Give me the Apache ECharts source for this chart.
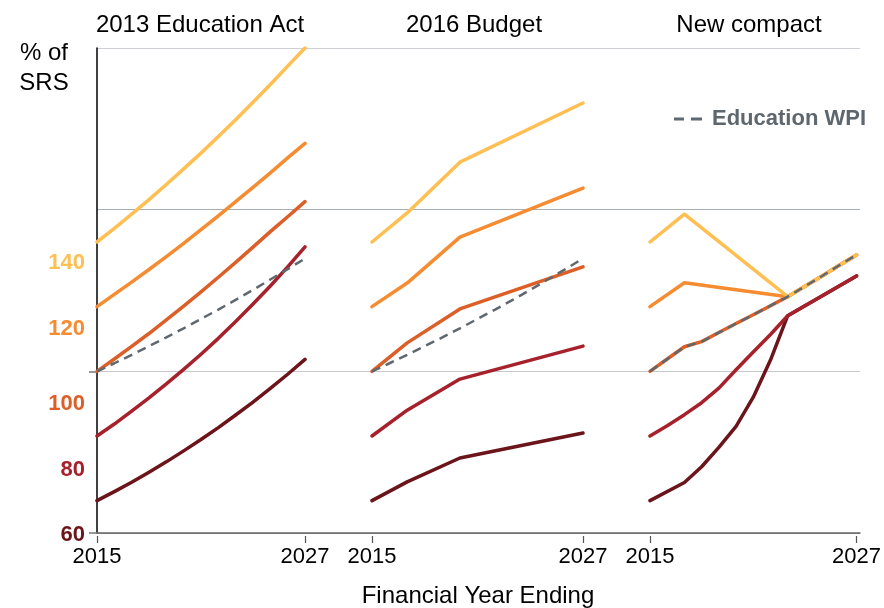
<!DOCTYPE html>
<html>
<head>
<meta charset="utf-8">
<script src="https://cdn.jsdelivr.net/npm/echarts@6/dist/echarts.min.js"></script>
<style>
html,body{margin:0;padding:0;background:#fff;}
#chart{width:884px;height:608px;}
</style>
</head>
<body>
<div id="chart"></div>
<script>
// ---------- DATA ----------
const panelTitles = ['2013 Education Act', '2016 Budget', 'New compact'];
const tickYears = [2015, 2027];
const startLabels = ['60', '80', '100', '120', '140'];
const startValues = [60, 80, 100, 120, 140];

// 2013 Education Act (yearly 2015..2027)
const actYears = [2015, 2016, 2017, 2018, 2019, 2020, 2021, 2022, 2023, 2024, 2025, 2026, 2027];
const actDark      = [60, 62.8, 65.7, 68.8, 72.0, 75.4, 78.9, 82.6, 86.5, 90.5, 94.7, 99.1, 103.7];
const actRed       = [80, 83.7, 87.7, 91.8, 96.1, 100.6, 105.3, 110.2, 115.4, 120.8, 126.4, 132.3, 138.5];
const actOrangeRed = [100, 103.8, 107.7, 111.7, 115.9, 120.2, 124.6, 129.1, 133.7, 138.4, 143.2, 147.8, 152.5];
const actOrange    = [120, 123.8, 127.6, 131.5, 135.5, 139.6, 143.8, 148.1, 152.5, 156.9, 161.4, 166.0, 170.5];
const actLight     = [140, 144.2, 148.6, 153.1, 157.8, 162.6, 167.5, 172.6, 177.8, 183.2, 188.7, 194.4, 200];
const wpi          = [100, 102.5, 105.1, 107.8, 110.5, 113.3, 116.2, 119.1, 122.1, 125.2, 128.4, 131.6, 134.9];

// 2016 Budget
const budYears = [2015, 2017, 2020, 2027];
const budDark      = [60, 65.8, 73.2, 80.9];
const budRed       = [80, 88, 97.6, 107.8];
const budOrangeRed = [100, 108.8, 119.3, 132.3];
const budOrange    = [120, 127.3, 141.5, 156.7];
const budLight     = [140, 149, 164.7, 183];

// New compact
const cmpDarkYears = [2015, 2017, 2018, 2019, 2020, 2021, 2022, 2023, 2027];
const cmpDark      = [60, 65.6, 70.5, 76.5, 83, 92, 103.5, 117.2, 129.5];
const cmpRedYears  = [2015, 2016, 2017, 2018, 2019, 2020, 2021, 2022, 2023, 2027];
const cmpRed       = [80, 83.2, 86.6, 90.3, 94.8, 100.5, 106, 111.4, 117.2, 129.5];
const cmpMidYears  = [2015, 2016, 2017, 2018, 2019, 2020, 2021, 2022, 2023, 2024, 2025, 2026, 2027];
const cmpOrangeRed = [100, 103.8, 107.6, 109.2, 112.0, 114.8, 117.5, 120.3, 123.1, 126.3, 129.5, 132.8, 136];
const cmpWpi       = [100, 103.8, 107.6, 109.2, 112.0, 114.8, 117.5, 120.3, 123.1, 126.3, 129.5, 132.8, 136];
const cmpTopYears  = [2015, 2017, 2023, 2024, 2025, 2026, 2027];
const cmpOrange    = [120, 127.4, 123.1, 126.3, 129.5, 132.8, 136];
const cmpLight     = [140, 148.6, 123.1, 126.3, 129.5, 132.8, 136];

// ---------- STYLE ----------
const FONT = '"Liberation Sans", Arial, Helvetica, sans-serif';
const C = {dark:'#6B141A', red:'#A6212B', orangeRed:'#DC5F27', orange:'#F58C32', light:'#FFBF52', wpi:'#5F676F'};
const bandColors = [C.dark, C.red, C.orangeRed, C.orange, C.light];
const labelShift = [34, 34, 33, 22, 21];

const pair = (xs, ys) => xs.map((x, i) => [x, ys[i]]);

function line(name, color, xs, ys, gi) {
  return {
    type: 'line', name: name, xAxisIndex: gi, yAxisIndex: gi,
    data: pair(xs, ys), symbol: 'none', showSymbol: false, clip: false,
    lineStyle: {color: color, width: 3.5, cap: 'round', join: 'round'},
    itemStyle: {color: color}, emphasis: {disabled: true}, silent: true
  };
}
function wpiLine(xs, ys, gi) {
  return {
    type: 'line', name: 'Education WPI', xAxisIndex: gi, yAxisIndex: gi,
    data: pair(xs, ys), symbol: 'none', showSymbol: false, clip: false,
    lineStyle: {color: C.wpi, width: 2.5, type: [9, 6]},
    itemStyle: {color: C.wpi}, emphasis: {disabled: true}, silent: true
  };
}

const gridsPx = [
  {left: 97, right: 24, top: 48, bottom: 75},   // background frame
  {left: 97, right: 579, top: 48, bottom: 75},
  {left: 372, right: 301, top: 48, bottom: 75},
  {left: 650, right: 25, top: 48, bottom: 75}
];

const xAxes = [{
  gridIndex: 0, type: 'value', min: 0, max: 1,
  axisLine: {show: true, lineStyle: {color: '#6a6a6a', width: 1.5}},
  axisTick: {show: false}, axisLabel: {show: false}, splitLine: {show: false}
}];
const yAxes = [{
  gridIndex: 0, type: 'value', min: 50, max: 200, interval: 50, position: 'left',
  axisLine: {show: true, lineStyle: {color: '#000', width: 1.5}},
  axisTick: {show: false},
  axisLabel: {show: false},
  splitLine: {show: true, lineStyle: {color: ['#888', '#c6c8ca', '#a7aeb5', '#cdd1d6'], width: 1.2}}
}];
for (let g = 1; g <= 3; g++) {
  xAxes.push({
    gridIndex: g, type: 'value', min: 2015, max: 2027, offset: 3,
    axisLine: {show: false}, splitLine: {show: false},
    axisTick: {show: true, customValues: tickYears, length: 7, lineStyle: {color: '#555', width: 1.2}},
    axisLabel: {customValues: tickYears, formatter: v => String(v), fontSize: 22, color: '#000', margin: 10, fontFamily: FONT}
  });
  yAxes.push({gridIndex: g, type: 'value', min: 50, max: 200, show: false});
}
// tick-only axis on the frame (ticks at 50 and 100), on the left side
yAxes.push({
  gridIndex: 0, type: 'value', min: 50, max: 200, position: 'left', offset: 0,
  axisLine: {show: false}, splitLine: {show: false}, axisLabel: {show: false},
  axisTick: {show: true, customValues: [50, 100], length: 8, lineStyle: {color: '#777', width: 1.5}}
});

const series = [
  line('dark', C.dark, actYears, actDark, 1),
  line('red', C.red, actYears, actRed, 1),
  line('orangeRed', C.orangeRed, actYears, actOrangeRed, 1),
  line('orange', C.orange, actYears, actOrange, 1),
  line('light', C.light, actYears, actLight, 1),
  wpiLine(actYears, wpi, 1),

  line('dark', C.dark, budYears, budDark, 2),
  line('red', C.red, budYears, budRed, 2),
  line('orangeRed', C.orangeRed, budYears, budOrangeRed, 2),
  line('orange', C.orange, budYears, budOrange, 2),
  line('light', C.light, budYears, budLight, 2),
  wpiLine(actYears, wpi, 2),

  line('dark', C.dark, cmpDarkYears, cmpDark, 3),
  line('red', C.red, cmpRedYears, cmpRed, 3),
  line('orangeRed', C.orangeRed, cmpMidYears, cmpOrangeRed, 3),
  line('orange', C.orange, cmpTopYears, cmpOrange, 3),
  line('light', C.light, cmpTopYears, cmpLight, 3),
  wpiLine(cmpMidYears, cmpWpi, 3),

  {
    type: 'scatter', name: 'startLabels', xAxisIndex: 1, yAxisIndex: 1,
    symbolSize: 0, clip: false, silent: true, z: 5,
    data: startValues.map((v, i) => ({
      value: [2015, v],
      itemStyle: {color: bandColors[i], opacity: 1},
      label: {show: true, formatter: startLabels[i], color: bandColors[i], opacity: 1, offset: [0, labelShift[i]]}
    })),
    label: {show: true, position: 'left', distance: 12, fontSize: 22, fontWeight: 'bold',
            fontFamily: FONT, textBorderWidth: 0, opacity: 1}
  }
];

const titleCenters = [200, 474, 749];
const titles = panelTitles.map((t, i) => ({
  text: t, left: titleCenters[i], top: 11, textAlign: 'center', padding: 0,
  textStyle: {fontSize: 24, fontWeight: 'normal', color: '#000', lineHeight: 28, fontFamily: FONT}
}));
titles.push({
  text: '% of\nSRS', left: 44, top: 38, textAlign: 'center', padding: 0,
  textStyle: {fontSize: 24, fontWeight: 'normal', color: '#000', lineHeight: 30, fontFamily: FONT}
});
titles.push({
  text: 'Financial Year Ending', left: 478, top: 582, textAlign: 'center', padding: 0,
  textStyle: {fontSize: 24, fontWeight: 'normal', color: '#000', lineHeight: 28, fontFamily: FONT}
});

const chart = echarts.init(document.getElementById('chart'), null, {renderer: 'canvas'});
chart.setOption({
  animation: false,
  backgroundColor: '#fff',
  title: titles,
  legend: {
    data: [{name: 'Education WPI', icon: 'path://M0,0 H10 V3 H0 Z M17,0 H28 V3 H17 Z'}],
    left: 674, top: 108, padding: 0,
    itemWidth: 28, itemHeight: 3, selectedMode: false,
    itemStyle: {color: C.wpi},
    textStyle: {fontSize: 22, fontWeight: 'bold', color: '#5E666E', padding: [0, 0, 0, 5], fontFamily: FONT}
  },
  grid: gridsPx,
  xAxis: xAxes,
  yAxis: yAxes,
  series: series
});
</script>
</body>
</html>
